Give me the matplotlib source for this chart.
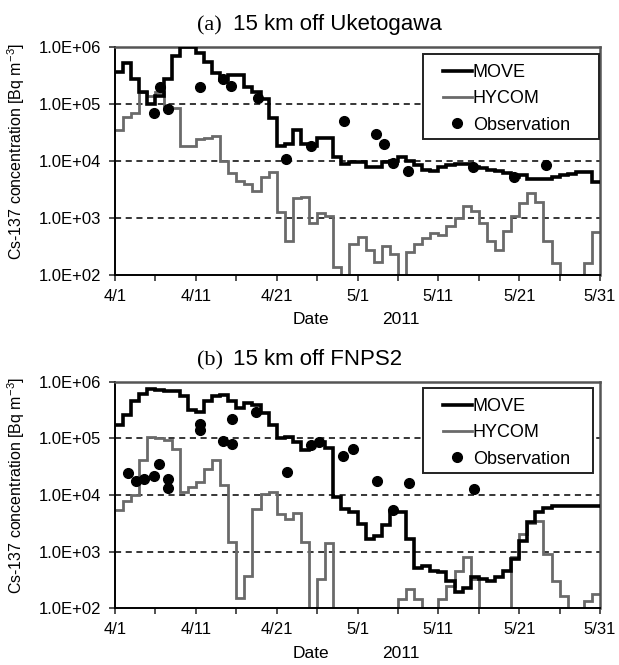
import matplotlib.pyplot as plt
import matplotlib.patches as mpatches
import numpy as np

plt.rcParams['font.family'] = ['Liberation Sans', 'DejaVu Sans']
plt.rcParams['mathtext.fontset'] = 'custom'
plt.rcParams['mathtext.rm'] = 'Liberation Sans'

# daily values, 4/1 .. 5/30 (day index 0..59); 10 means below the axis
move_a = [3.7e5, 5.3e5, 2.8e5, 1.6e5, 1.0e5, 1.4e5, 2.8e5, 7.0e5, 1.0e6, 1.0e6,
          8.0e5, 5.5e5, 3.5e5, 2.6e5, 3.2e5, 3.2e5, 2.0e5, 1.6e5, 1.2e5, 5.6e4,
          1.8e4, 2.0e4, 3.5e4, 2.0e4, 1.8e4, 2.5e4, 2.5e4, 1.17e4, 8.9e3, 9.5e3,
          9.5e3, 8.0e3, 8.0e3, 9.5e3, 1.0e4, 1.17e4, 1.0e4, 8.5e3, 6.9e3, 6.6e3,
          8.0e3, 8.5e3, 8.9e3, 8.9e3, 8.0e3, 7.6e3, 6.9e3, 6.6e3, 6.2e3, 5.2e3,
          5.6e3, 4.9e3, 4.9e3, 4.9e3, 5.2e3, 5.6e3, 6.0e3, 6.3e3, 6.3e3, 4.3e3]
hycom_a = [3.5e4, 6.0e4, 7.0e4, 1.6e5, 1.4e5, 1.6e5, 9.0e4, 8.5e4, 1.8e4, 1.8e4,
           2.4e4, 2.5e4, 2.8e4, 1.0e4, 6.2e3, 4.5e3, 4.0e3, 3.0e3, 5.2e3, 6.4e3,
           1.3e3, 4.0e2, 2.2e3, 2.3e3, 8.3e2, 1.2e3, 1.1e3, 1.4e2, 10, 3.5e2,
           4.7e2, 2.7e2, 1.7e2, 3.2e2, 2.3e2, 10, 2.5e2, 3.5e2, 4.4e2, 5.5e2,
           5.0e2, 7.1e2, 1.0e3, 1.65e3, 1.35e3, 8.1e2, 4.0e2, 2.7e2, 6.0e2, 1.1e3,
           1.8e3, 2.7e3, 1.9e3, 4.0e2, 1.6e2, 10, 10, 10, 1.6e2, 5.6e2]
obs_a_day = [4.8, 5.6, 6.5, 10.5, 13.4, 14.4, 17.7, 21.2, 24.2,
             28.3, 32.3, 33.3, 34.4, 36.2, 44.3, 49.3, 53.3]
obs_a_val = [7.0e4, 2.0e5, 8.1e4, 2.0e5, 2.7e5, 2.1e5, 1.26e5, 1.1e4, 1.8e4,
             5.0e4, 3.0e4, 1.95e4, 9.4e3, 6.7e3, 7.9e3, 5.3e3, 8.5e3]

move_b = [1.7e5, 2.6e5, 4.7e5, 6.2e5, 7.4e5, 7.1e5, 6.9e5, 6.9e5, 5.6e5, 3.2e5,
          3.0e5, 4.7e5, 5.6e5, 5.8e5, 4.7e5, 3.4e5, 4.2e5, 3.9e5, 2.8e5, 1.7e5,
          1.0e5, 1.07e5, 8.7e4, 6.3e4, 7.6e4, 8.7e4, 6.9e4, 9.1e3, 5.6e3, 5.0e3,
          3.1e3, 1.66e3, 1.9e3, 2.9e3, 5.0e3, 5.0e3, 1.66e3, 5.2e2, 5.6e2, 4.6e2,
          4.3e2, 3.0e2, 1.9e2, 2.3e2, 3.5e2, 3.2e2, 3.0e2, 3.5e2, 4.6e2, 7.4e2,
          1.55e3, 3.3e3, 5.0e3, 6.0e3, 6.3e3, 6.3e3, 6.3e3, 6.3e3, 6.3e3, 6.3e3]
hycom_b = [5.4e3, 7.9e3, 9.8e3, 4.1e4, 1.07e5, 1.02e5, 9.3e4, 6.6e4, 1.12e4, 1.38e4,
           1.7e4, 2.9e4, 4.2e4, 1.48e4, 1.45e3, 1.5e2, 3.7e2, 5.6e3, 1.05e4, 1.12e4,
           4.7e3, 3.8e3, 4.8e3, 1.45e3, 10, 3.2e2, 1.4e3, 10, 10, 10,
           10, 10, 10, 10, 10, 1.45e2, 2.2e2, 1.45e2, 10, 10,
           1.45e2, 2.5e2, 4.6e2, 8.0e2, 3.2e2, 10, 10, 10, 10, 8.0e2,
           2.0e3, 3.2e3, 3.5e3, 9.1e2, 3.0e2, 1.66e2, 10, 10, 1.35e2, 1.8e2]
obs_b_day = [1.6, 2.6, 3.6, 4.8, 5.5, 6.5, 6.5, 10.5, 10.5, 13.3, 14.5, 14.5,
             17.4, 21.3, 24.3, 25.2, 28.2, 29.4, 32.4, 34.4, 36.4, 44.4]
obs_b_val = [2.5e4, 1.8e4, 1.9e4, 2.2e4, 3.6e4, 1.95e4, 1.35e4, 1.8e5, 1.4e5,
             9.0e4, 2.2e5, 8.0e4, 2.9e5, 2.6e4, 7.6e4, 8.7e4, 5.0e4, 6.6e4,
             1.8e4, 5.5e3, 1.6e4, 1.26e4]

xtick_labels = ['4/1', '4/11', '4/21', '5/1', '5/11', '5/21', '5/31']
ytick_labels = ['1.0E+02', '1.0E+03', '1.0E+04', '1.0E+05', '1.0E+06']

panels = [('(a)', '15 km off Uketogawa', move_a, hycom_a, obs_a_day, obs_a_val),
          ('(b)', '15 km off FNPS2', move_b, hycom_b, obs_b_day, obs_b_val)]

fig = plt.figure(figsize=(6.19, 6.65), dpi=100)
W, H = 619, 665
boxes = [(115, 47, 600, 275), (115, 382, 600, 608)]
legboxes = [(423, 54, 599, 139), (423, 388, 593, 473)]

edges = np.arange(61)
for (tag, title, move, hycom, od, ov), (l, t, r, b), (ll, lt, lr, lb) in zip(panels, boxes, legboxes):
    ax = fig.add_axes([l / W, 1 - b / H, (r - l) / W, (b - t) / H])
    ax.set_yscale('log')
    ax.set_xlim(0, 60)
    ax.set_ylim(1e2, 1e6)
    for yv in [1e3, 1e4, 1e5]:
        ax.axhline(yv, color='black', ls=(0, (4, 3)), lw=1.1, zorder=1)
    ax.stairs(hycom, edges, color='#6a6a6a', lw=2.0, baseline=None, label='HYCOM', zorder=2)
    ax.stairs(move, edges, color='black', lw=2.6, baseline=None, label='MOVE', zorder=3)
    ax.plot(od, ov, 'o', color='black', ms=7, ls='none', label='Observation', zorder=4)

    ax.set_xticks(np.arange(0, 61, 10))
    ax.set_xticklabels(xtick_labels, fontsize=12)
    ax.set_xticks(np.arange(5, 60, 10), minor=True)
    ax.set_yticks([1e2, 1e3, 1e4, 1e5, 1e6])
    ax.set_yticklabels(ytick_labels, fontsize=12)
    ax.yaxis.set_minor_locator(plt.NullLocator())
    ax.tick_params(which='both', direction='out', length=4, width=1.2, color='#333')
    ax.tick_params(axis='x', pad=6)
    ax.tick_params(axis='y', pad=6)
    ax.tick_params(axis='x', which='minor', labelbottom=False)
    for s in ['left', 'bottom']:
        ax.spines[s].set_color('black')
        ax.spines[s].set_linewidth(1.4)
    for s in ['top', 'right']:
        ax.spines[s].set_color('#555')
        ax.spines[s].set_linewidth(1.8)

    # legend frame drawn separately to get the wide side padding
    frame = mpatches.Rectangle((ll / W, 1 - lb / H), (lr - ll) / W, (lb - lt) / H,
                               transform=fig.transFigure, facecolor='white',
                               edgecolor='#222', lw=1.4, zorder=5)
    ax.add_artist(frame)
    frame.set_clip_on(False)
    h, lab = ax.get_legend_handles_labels()
    order = [lab.index('MOVE'), lab.index('HYCOM'), lab.index('Observation')]
    leg = ax.legend([h[i] for i in order], [lab[i] for i in order], loc='upper left',
                    bbox_to_anchor=((ll + 20) / W, 1 - (lt + 10) / H),
                    bbox_transform=fig.transFigure, fontsize=13, handlelength=1.6,
                    handletextpad=0.05, borderpad=0, borderaxespad=0,
                    labelspacing=0.52, frameon=False)
    leg.set_zorder(6)

    fig.text(197 / W, 1 - (t - 17) / H, tag, family='Liberation Serif', fontsize=16,
             ha='left', va='baseline')
    fig.text(233 / W, 1 - (t - 17) / H, title, fontsize=16, ha='left', va='baseline')
    fig.text(311 / W, 1 - (b + 45) / H, 'Date', fontsize=12.5, ha='center', va='center')
    fig.text(401 / W, 1 - (b + 45) / H, '2011', fontsize=12.5, ha='center', va='center')
    fig.text(16 / W, 1 - ((t + b) / 2 - 10) / H,
             r'Cs-137 concentration [Bq m$^{\mathregular{-3}}$]', rotation=90,
             fontsize=11.5, ha='center', va='center')

fig.savefig('out.png', dpi=100)
